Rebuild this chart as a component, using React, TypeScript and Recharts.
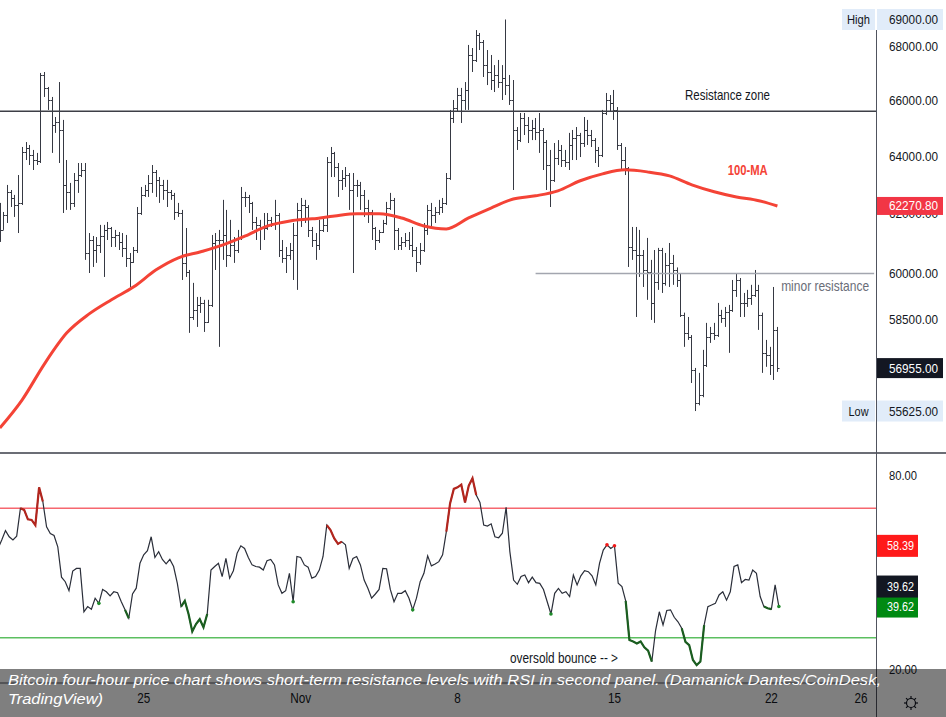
import React from "react";
import {
  ComposedChart,
  Bar,
  Line,
  XAxis,
  YAxis,
  ReferenceLine,
  ReferenceDot,
} from "recharts";

// BTC/USD four-hour bars, bar 0 = Oct 18 12:00, bar 209 = Nov 22 08:00
const OPEN = [
  61965, 61455, 61965, 62755, 62545, 62305, 62375, 64150, 64290, 64045,
  63865, 63830, 66925, 66450, 66010, 65110, 65215, 64930, 62995, 62755,
  62375, 63170, 63340, 63515, 60680, 61115, 60780, 60950, 61250, 61455,
  61520, 61215, 61285, 61050, 60850, 60515, 60380, 60780, 62030, 62650,
  62820, 63065, 63445, 63170, 62995, 62820, 62755, 62650, 62065, 62030,
  60350, 60050, 58580, 58810, 58970, 59035, 58420, 58970, 61015, 61115,
  61115, 61285, 60615, 60950, 60780, 61185, 62580, 62580, 62375, 61725,
  61625, 61520, 61520, 61795, 61690, 61965, 60780, 60515, 60615, 60780,
  61285, 62135, 62305, 62235, 61455, 61115, 60950, 61455, 61625, 63795,
  64115, 63620, 63170, 63235, 63340, 62820, 62995, 62995, 62650, 62200,
  62065, 61520, 61115, 61385, 61690, 62200, 62480, 61455, 60950, 61050,
  61115, 60950, 60780, 60380, 60780, 61455, 62135, 61965, 62065, 62235,
  62375, 63235, 65360, 65720, 66190, 66010, 66375, 67665, 67480, 68410,
  68150, 67290, 67035, 66740, 66925, 66665, 66815, 66555, 66010, 64930,
  64570, 65360, 65110, 64930, 65000, 64860, 64930, 64500, 63690, 63170,
  63935, 64220, 63865, 63795, 64395, 64645, 64750, 64465, 64930, 64750,
  64570, 64220, 64045, 65540, 66010, 65900, 65650, 64395, 63865, 63585,
  60880, 60780, 60615, 60615, 60115, 60050, 59035, 59720, 60780, 59690,
  60285, 60350, 60115, 59785, 58650, 58070, 57940, 56900, 55875, 56120,
  57055, 57940, 58070, 58005, 58650, 58550, 58745, 58810, 59460, 59785,
  59035, 59035, 59200, 59295, 59460, 58650, 57435, 57370, 57055, 58165,
];
const HIGH = [
  62375, 62065, 62995, 62820, 62650, 63340, 64325, 64500, 64395, 64220,
  64115, 67000, 67035, 66485, 66120, 65395, 66665, 65290, 63865, 63065,
  63410, 63760, 63760, 63760, 61350, 61250, 61215, 61625, 61625, 61725,
  61555, 61455, 61385, 61350, 61285, 60680, 60880, 62235, 62925, 62995,
  63340, 63690, 63515, 63270, 63170, 63170, 62820, 62720, 62375, 62135,
  61520, 60115, 59690, 59230, 59230, 59135, 59135, 61285, 61350, 61455,
  62480, 62135, 61795, 61215, 61455, 62925, 62755, 62650, 62410, 61895,
  61795, 62030, 62030, 61895, 62480, 62030, 61115, 60880, 61015, 61690,
  62375, 62545, 62480, 62300, 61555, 61350, 61795, 61860, 63970, 64325,
  64150, 63760, 63515, 63620, 63410, 63410, 63170, 63100, 62820, 62480,
  62135, 61555, 61455, 61795, 62410, 62720, 62545, 61520, 61215, 61350,
  61385, 61555, 60880, 61015, 61690, 62305, 62375, 62235, 62480, 62545,
  63410, 65650, 66010, 66450, 66450, 66665, 68040, 67925, 68600, 68490,
  68225, 67850, 67665, 67290, 67480, 67290, 69000, 66925, 66740, 65035,
  65540, 65540, 65395, 65290, 65360, 65540, 65000, 64570, 64220, 64465,
  64570, 64395, 64220, 64825, 64930, 65035, 64825, 65395, 65290, 64930,
  64640, 64325, 65650, 66265, 66190, 66375, 65755, 64465, 64325, 63620,
  61555, 61555, 61455, 60780, 61185, 60450, 60780, 60850, 60850, 60680,
  61015, 60615, 60200, 60015, 58720, 58580, 58000, 56960, 56805, 57530,
  58390, 58260, 58390, 59035, 58810, 58905, 58970, 59785, 60015, 59850,
  59360, 59460, 59625, 60115, 59625, 58720, 57845, 57625, 59555, 58260,
];
const LOW = [
  61050, 61455, 61690, 62235, 61895, 61350, 62305, 63865, 63690, 63515,
  63690, 63760, 66120, 65650, 64115, 64825, 63760, 62030, 62135, 62135,
  62235, 62720, 63270, 60450, 60015, 60215, 60350, 60680, 59885, 61115,
  60880, 60880, 60780, 60545, 60215, 59555, 60350, 60680, 61965, 62580,
  62580, 62720, 62580, 62375, 62480, 62235, 62480, 61795, 61895, 59785,
  59885, 58070, 58485, 58260, 58710, 58100, 58390, 58905, 60115, 57625,
  60450, 60215, 60545, 60350, 60680, 61115, 62235, 62030, 61455, 61115,
  60780, 61115, 61455, 61555, 61455, 60545, 60350, 60015, 60450, 59785,
  59460, 61555, 61690, 61215, 60880, 60450, 60780, 61385, 61385, 63270,
  63270, 62580, 62820, 62925, 62135, 60015, 62580, 62135, 61895, 61690,
  61115, 60780, 61015, 61350, 61625, 62135, 60780, 60780, 60780, 60880,
  60780, 60545, 60050, 60285, 60715, 61285, 61555, 61690, 61965, 62030,
  62305, 63170, 65180, 65575, 65180, 65650, 65650, 67035, 67405, 67850,
  66850, 66555, 66375, 66300, 66450, 66010, 66190, 65830, 62820, 64220,
  64500, 64750, 64465, 64570, 64570, 64115, 63515, 62820, 62235, 63100,
  63690, 63620, 63620, 63515, 63865, 63865, 63970, 64325, 64395, 64325,
  63760, 63620, 63970, 65465, 65575, 65290, 64220, 63515, 63340, 60215,
  60450, 58580, 59885, 59555, 59135, 58485, 58390, 59460, 59360, 59600,
  59555, 59625, 59555, 58580, 57625, 57845, 56490, 55625, 55800, 56050,
  56990, 57750, 57845, 57940, 58390, 58260, 57435, 58745, 59230, 58580,
  58580, 58905, 58970, 59230, 58165, 56805, 56995, 56740, 56585, 56835,
];
const CLOSE = [
  61455, 61965, 62755, 62545, 62305, 62375, 64150, 64290, 64045, 63865,
  63830, 66925, 66450, 66010, 65110, 65215, 64930, 62995, 62755, 62375,
  63170, 63340, 63515, 60680, 61115, 60780, 60950, 61250, 61455, 61520,
  61215, 61285, 61050, 60850, 60515, 60380, 60780, 62030, 62650, 62820,
  63065, 63445, 63170, 62995, 62820, 62755, 62650, 62065, 62030, 60350,
  60050, 58580, 58810, 58970, 59035, 58420, 58970, 61015, 61115, 61115,
  61285, 60615, 60950, 60780, 61185, 62580, 62580, 62375, 61725, 61625,
  61520, 61520, 61795, 61690, 61965, 60780, 60515, 60615, 60780, 61285,
  62135, 62305, 62235, 61455, 61115, 60950, 61455, 61625, 63795, 64115,
  63620, 63170, 63235, 63340, 62820, 62995, 62995, 62650, 62200, 62065,
  61520, 61115, 61385, 61690, 62200, 62480, 61455, 60950, 61050, 61115,
  60950, 60780, 60380, 60780, 61455, 62135, 61965, 62065, 62235, 62375,
  63235, 65360, 65720, 66190, 66010, 66375, 67665, 67480, 68410, 68150,
  67290, 67035, 66740, 66925, 66665, 66815, 66555, 66010, 64930, 64570,
  65360, 65110, 64930, 65000, 64860, 64930, 64500, 63690, 63170, 63935,
  64220, 63865, 63795, 64395, 64645, 64750, 64465, 64930, 64750, 64570,
  64220, 64045, 65540, 66010, 65900, 65650, 64395, 63865, 63585, 60880,
  60780, 60615, 60615, 60115, 60050, 59035, 59720, 60780, 59690, 60285,
  60350, 60115, 59785, 58650, 58070, 57940, 56900, 55875, 56120, 57055,
  57940, 58070, 58005, 58650, 58550, 58745, 58810, 59460, 59785, 59035,
  59035, 59200, 59295, 59460, 58650, 57435, 57370, 57055, 58165, 56955,
];

// 100-period moving average, read once a day: [bar, value]
const MA_100 = [
  [0, 55110], [6, 55970], [12, 57090], [18, 58070], [24, 58680], [30, 59140],
  [36, 59560], [42, 60120], [48, 60520], [54, 60720], [60, 60950], [66, 61250],
  [72, 61590], [78, 61760], [84, 61830], [90, 61930], [96, 62000], [102, 62000],
  [108, 61860], [114, 61590], [120, 61490], [126, 61860], [132, 62200], [138, 62510],
  [144, 62620], [150, 62790], [156, 63140], [162, 63380], [168, 63520], [174, 63450],
  [180, 63310], [186, 63000], [192, 62760], [198, 62580], [204, 62450], [209, 62270.8],
];

const RSI = [
  57.6, 60.2, 63.1, 61.2, 60.2, 61.4, 70.0, 69.5, 66.6, 66.4,
  64.8, 76.5, 72.1, 64.3, 62.2, 61.6, 58.1, 48.7, 47.3, 44.5,
  50.6, 51.4, 51.4, 38.0, 39.6, 38.8, 42.2, 40.6, 44.9, 44.2,
  42.9, 44.2, 43.9, 41.1, 38.6, 36.0, 43.5, 45.3, 53.0, 55.6,
  56.9, 61.2, 54.8, 56.6, 54.2, 52.8, 54.2, 52.0, 46.8, 39.6,
  41.4, 37.3, 31.9, 34.2, 35.7, 33.2, 37.3, 50.9, 52.0, 53.0,
  48.9, 54.5, 48.4, 50.7, 56.1, 58.4, 57.6, 54.8, 52.5, 52.0,
  51.8, 50.9, 53.8, 54.2, 52.5, 46.3, 43.7, 44.5, 49.9, 41.1,
  55.1, 54.8, 52.5, 51.8, 48.4, 48.9, 50.9, 55.1, 64.8, 63.3,
  60.7, 59.0, 59.7, 58.7, 51.4, 54.5, 55.1, 52.5, 47.8, 45.3,
  42.2, 43.5, 44.9, 51.4, 51.3, 44.9, 41.1, 43.7, 43.7, 44.5,
  42.2, 38.6, 42.2, 47.3, 49.9, 55.3, 52.2, 52.8, 53.5, 55.6,
  62.8, 71.5, 76.0, 76.5, 77.3, 71.8, 77.0, 79.3, 74.1, 71.8,
  64.8, 64.5, 65.2, 61.2, 60.9, 62.3, 70.3, 56.6, 47.8, 46.5,
  48.9, 49.4, 47.0, 48.7, 47.0, 46.8, 44.9, 41.1, 37.3, 43.7,
  45.2, 43.7, 44.2, 42.7, 49.4, 46.3, 49.1, 50.7, 50.4, 49.1,
  46.3, 53.0, 57.1, 58.7, 57.6, 58.4, 46.8, 45.8, 41.4, 29.3,
  28.8, 28.2, 28.8, 27.0, 26.0, 22.6, 32.2, 38.0, 33.9, 38.4,
  38.6, 36.3, 34.9, 32.9, 28.7, 27.7, 23.1, 21.5, 22.6, 33.9,
  39.6, 40.1, 40.6, 43.2, 44.2, 41.6, 44.2, 52.0, 52.5, 47.0,
  48.0, 47.8, 50.9, 49.9, 42.7, 39.6, 39.1, 38.8, 46.3, 39.62,
];
// stretches the indicator paints as overbought / oversold: [first bar, last bar]
const RSI_OVERBOUGHT = [[6, 12], [88, 92], [120, 128], [163, 163], [165, 165]];
const RSI_OVERSOLD = [
  [27, 27], [34, 35], [49, 56], [79, 79], [111, 111], [148, 148],
  [168, 175], [183, 189], [205, 207], [209, 209],
];

const SLOTS = 236; // bar slots across the pane, the rest is right-hand space
const DAY_BARS = [39, 81, 123, 165, 207, 231];
const DAY_LABELS = ["25", "Nov", "8", "15", "22", "26"];
const PRICE_TICKS = [58500, 60000, 62000, 64000, 66000, 68000];
const RSI_TICKS = [20, 80];
const RESISTANCE = 65600;
const MINOR_RESISTANCE = 60000;
const MINOR_FROM = 144;
const RSI_UPPER = 70;
const RSI_LOWER = 30;
const HIGH_PRICE = 69000;
const LOW_PRICE = 55625;
const LAST_PRICE = 56955;
const MA_LAST = 62270.8;
const MA_NOTE = [201, 63540];
const RSI_SIGNAL = 58.39;
const RSI_LAST = 39.62;

const FONT = "'Liberation Sans', Arial, sans-serif";
const INK = "#131722";
const MA_RED = "#f44336";
const TAG_BLUE = "#e1ecf9";
const AXIS_TEXT = 13.5;

const maAt = new Map(MA_100.map(([i, v]) => [i, v]));
const within = (i: number, ranges: number[][]) =>
  ranges.some(([a, b]) => i >= a && i <= b);

const rows = Array.from({ length: SLOTS }, (_, i) =>
  i < CLOSE.length
    ? {
        i,
        o: OPEN[i],
        h: HIGH[i],
        l: LOW[i],
        c: CLOSE[i],
        ma: maAt.get(i) ?? null,
        rsi: RSI[i],
        hot: within(i, RSI_OVERBOUGHT) ? RSI[i] : null,
        cold: within(i, RSI_OVERSOLD) ? RSI[i] : null,
      }
    : { i, ma: null, rsi: null, hot: null, cold: null }
);

const barRange = (d: any) =>
  d.c == null ? null : [Math.min(d.l, d.o, d.c), Math.max(d.h, d.o, d.c)];

function OhlcShape(props: any) {
  const { x, y, width, height, payload } = props;
  if (!payload || payload.c == null || y == null) return <g />;
  const top = Math.min(y, y + height);
  const bot = Math.max(y, y + height);
  const hi = Math.max(payload.h, payload.o, payload.c);
  const lo = Math.min(payload.l, payload.o, payload.c);
  const span = Math.log(hi) - Math.log(lo) || 1;
  const at = (v: number) => top + ((bot - top) * (Math.log(hi) - Math.log(v))) / span;
  const cx = Math.round(x + width / 2) + 0.5;
  const yo = Math.round(at(payload.o)) + 0.5;
  const yc = Math.round(at(payload.c)) + 0.5;
  return (
    <path
      d={`M${cx},${top}V${bot}M${cx - 2},${yo}H${cx}M${cx},${yc}H${cx + 2}`}
      stroke="#363943"
      strokeWidth={1}
      fill="none"
    />
  );
}

function NarrowText({ x, y, w, size = 15, fill = INK, anchor = "start", weight = "normal", children }: any) {
  return (
    <text
      x={x}
      y={y}
      textAnchor={anchor}
      dominantBaseline="central"
      fontFamily={FONT}
      fontSize={size}
      fontWeight={weight}
      fill={fill}
      textLength={w}
      lengthAdjust="spacingAndGlyphs"
    >
      {children}
    </text>
  );
}

// price scale: plain ticks first, then the coloured value tags drawn over them
function PriceTick({ y, payload }: any) {
  const v = Number(payload.value);
  const text = v.toFixed(2);
  const x0 = 879;
  const box = (bg: string, fg: string, h: number, title?: string) => (
    <g>
      {title && <rect x={x0 - 35} y={y - h / 2} width={33} height={h} fill={bg} />}
      {title && (
        <NarrowText x={x0 - 18.5} y={y} w={title.length > 3 ? 23 : 20} anchor="middle" size={AXIS_TEXT}>
          {title}
        </NarrowText>
      )}
      <rect x={x0} y={y - h / 2} width={66} height={h} fill={bg} />
      <NarrowText x={x0 + 12} y={y} w={49} fill={fg} size={AXIS_TEXT}>
        {text}
      </NarrowText>
    </g>
  );
  if (v === MA_LAST) return box("#f23645", "#fff", 18);
  if (v === LAST_PRICE) return box(INK, "#fff", 20);
  if (v === HIGH_PRICE) return box(TAG_BLUE, INK, 21, "High");
  if (v === LOW_PRICE) return box(TAG_BLUE, INK, 21, "Low");
  return (
    <NarrowText x={891} y={y} w={49} size={AXIS_TEXT}>
      {text}
    </NarrowText>
  );
}

function RsiTick({ y, payload }: any) {
  const v = Number(payload.value);
  const x0 = 879;
  const tag = (bg: string, cy: number) => (
    <g>
      <rect x={x0} y={cy - 11} width={41} height={22} fill={bg} />
      <NarrowText x={x0 + 10} y={cy} w={27} fill="#fff" size={AXIS_TEXT}>
        {v.toFixed(2)}
      </NarrowText>
    </g>
  );
  if (v === RSI_SIGNAL) return tag("#ff1a1a", y);
  if (v === RSI_LAST)
    return (
      <g>
        {tag("#008a12", y)}
        {tag(INK, y - 20)}
      </g>
    );
  return (
    <NarrowText x={891} y={y} w={28} size={AXIS_TEXT}>
      {v.toFixed(2)}
    </NarrowText>
  );
}

function TimeTick({ x, payload }: any) {
  const label = DAY_LABELS[DAY_BARS.indexOf(payload.value)] ?? "";
  return (
    <NarrowText x={x} y={245} w={label === "Nov" ? 21 : label.length * 6.5} anchor="middle" size={14}>
      {label}
    </NarrowText>
  );
}

function Note({ viewBox, text, dx = 0, dy = 0, w, fill = INK, anchor = "start", fromRight = false, weight }: any) {
  if (!viewBox) return null;
  const x = (fromRight ? viewBox.x + viewBox.width : viewBox.x) + dx;
  return (
    <NarrowText x={x} y={viewBox.y + dy} w={w} fill={fill} anchor={anchor} weight={weight}>
      {text}
    </NarrowText>
  );
}

const isolatedDot = (key: "hot" | "cold", color: string) => (p: any) => {
  const i = p.index;
  const row: any = rows[i];
  const prev: any = rows[i - 1];
  const next: any = rows[i + 1];
  const lone = row?.[key] != null && prev?.[key] == null && next?.[key] == null;
  return lone && p.cy != null ? (
    <circle key={`${key}${i}`} cx={p.cx} cy={p.cy} r={1.8} fill={color} />
  ) : (
    <g key={`${key}${i}`} />
  );
};

function Gear() {
  const spokes = Array.from({ length: 8 }, (_, k) => (k * Math.PI) / 4);
  return (
    <svg width={20} height={20} style={{ position: "absolute", left: 901, top: 693 }}>
      <circle cx={10} cy={10} r={4.5} fill="none" stroke={INK} strokeWidth={1.2} />
      {spokes.map((a, k) => (
        <line
          key={k}
          x1={10 + Math.cos(a) * 4.5}
          y1={10 + Math.sin(a) * 4.5}
          x2={10 + Math.cos(a) * 7}
          y2={10 + Math.sin(a) * 7}
          stroke={INK}
          strokeWidth={1.2}
        />
      ))}
    </svg>
  );
}

export default function App() {
  return (
    <div
      style={{
        position: "absolute",
        left: 0,
        top: 0,
        width: 946,
        height: 717,
        overflow: "hidden",
        background: "#fff",
        fontFamily: FONT,
      }}
    >
      <div style={{ position: "absolute", left: -2, top: 0 }}>
        <ComposedChart width={948} height={452} data={rows} margin={{ top: 0, right: 0, bottom: 0, left: 0 }}>
          <XAxis dataKey="i" type="category" hide />
          <YAxis
            orientation="right"
            scale="log"
            domain={[54385, 69744]}
            allowDataOverflow
            ticks={[...PRICE_TICKS, LOW_PRICE, LAST_PRICE, MA_LAST, HIGH_PRICE]}
            interval={0}
            tick={<PriceTick />}
            width={70}
            axisLine={false}
            tickLine={false}
          />
          <ReferenceLine
            y={RESISTANCE}
            stroke="#3d3f47"
            strokeWidth={1.6}
            label={<Note text="Resistance zone" dx={687} dy={-17} w={85} />}
          />
          <ReferenceLine
            segment={[
              { x: MINOR_FROM, y: MINOR_RESISTANCE },
              { x: SLOTS - 1, y: MINOR_RESISTANCE },
            ]}
            stroke="#a3a6af"
            strokeWidth={1.5}
            label={
              <Note text="minor resistance" fromRight dx={-5} dy={12} w={88} anchor="end" fill="#6a6d78" />
            }
          />
          <Bar dataKey={barRange} shape={<OhlcShape />} barSize={3} isAnimationActive={false} />
          <Line
            dataKey="ma"
            type="monotone"
            connectNulls
            stroke={MA_RED}
            strokeWidth={3}
            dot={false}
            activeDot={false}
            isAnimationActive={false}
          />
          <ReferenceDot
            x={MA_NOTE[0]}
            y={MA_NOTE[1]}
            r={0}
            fill="none"
            stroke="none"
            label={<Note text="100-MA" w={40} anchor="middle" fill={MA_RED} weight="bold" />}
          />
        </ComposedChart>
      </div>

      <div style={{ position: "absolute", left: -2, top: 453 }}>
        <ComposedChart width={948} height={264} data={rows} margin={{ top: 0, right: 0, bottom: 0, left: 0 }}>
          <XAxis
            dataKey="i"
            type="category"
            ticks={DAY_BARS}
            interval={0}
            tick={<TimeTick />}
            tickLine={false}
            axisLine={{ stroke: "#50535e" }}
            height={34}
          />
          <YAxis
            orientation="right"
            domain={[15.97, 87.11]}
            allowDataOverflow
            ticks={[...RSI_TICKS, RSI_SIGNAL, RSI_LAST]}
            interval={0}
            tick={<RsiTick />}
            width={70}
            axisLine={false}
            tickLine={false}
          />
          <ReferenceLine y={RSI_UPPER} stroke="#f6676f" strokeWidth={1.5} />
          <ReferenceLine
            y={RSI_LOWER}
            stroke="#5cbf60"
            strokeWidth={1.5}
            label={<Note text="oversold bounce -- >" dx={512} dy={19.5} w={108} />}
          />
          <Line dataKey="rsi" stroke="#2a2e39" strokeWidth={1.2} dot={false} activeDot={false} isAnimationActive={false} />
          <Line
            dataKey="hot"
            stroke="#b3261e"
            strokeWidth={2.2}
            dot={isolatedDot("hot", "#f01818")}
            activeDot={false}
            isAnimationActive={false}
          />
          <Line
            dataKey="cold"
            stroke="#1b5e20"
            strokeWidth={2.2}
            dot={isolatedDot("cold", "#1f8a2a")}
            activeDot={false}
            isAnimationActive={false}
          />
        </ComposedChart>
      </div>

      <div style={{ position: "absolute", left: 0, top: 452, width: 946, height: 2, background: "#6b6d75" }} />
      <div style={{ position: "absolute", left: 876, top: 30, width: 1, height: 687, background: "#50535e" }} />
      <Gear />

      <div
        style={{
          position: "absolute",
          left: 0,
          top: 669,
          width: 946,
          height: 48,
          background: "rgba(0,0,0,0.5)",
        }}
      >
        <svg width={946} height={48} style={{ display: "block" }}>
          <text
            x={8}
            y={16}
            fill="#fff"
            fontFamily={FONT}
            fontStyle="italic"
            fontSize={15.5}
            textLength={873}
            lengthAdjust="spacingAndGlyphs"
          >
            Bitcoin four-hour price chart shows short-term resistance levels with RSI in second panel. (Damanick Dantes/CoinDesk,
          </text>
          <text
            x={8}
            y={35}
            fill="#fff"
            fontFamily={FONT}
            fontStyle="italic"
            fontSize={15.5}
            textLength={95}
            lengthAdjust="spacingAndGlyphs"
          >
            TradingView)
          </text>
        </svg>
      </div>
    </div>
  );
}
